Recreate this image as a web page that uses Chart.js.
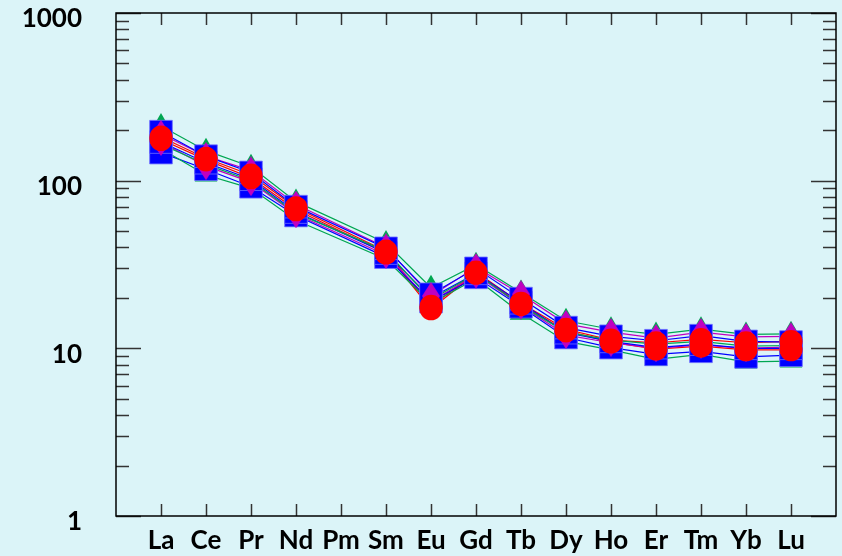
<!DOCTYPE html>
<html>
<head>
<meta charset="utf-8">
<script src="https://cdn.jsdelivr.net/npm/chart.js@4.4.1/dist/chart.umd.min.js"></script>
<style>
  body { margin: 0; background: rgb(219, 244, 248); }
  #wrap { width: 842px; height: 556px; }
</style>
</head>
<body>
<div id="wrap"><canvas id="reeChart" width="842" height="556"></canvas></div>
<script>
'use strict';

// REE elements (Pm has no data)
const elements = ['La', 'Ce', 'Pr', 'Nd', 'Pm', 'Sm', 'Eu', 'Gd', 'Tb', 'Dy', 'Ho', 'Er', 'Tm', 'Yb', 'Lu'];
const yTickValues = [1, 10, 100, 1000];

// chondrite-normalised values
const blue1 = [196, 140, 112, 70, null, 39.5, 21, 30, 19.8, 13.3, 11.8, 11.1, 11.9, 11, 10.9];
const blue2 = [170, 128, 102, 65, null, 37, 20, 28, 18.7, 12.4, 11, 10.1, 10.6, 10, 10];
const blue3 = [147, 117, 92, 62, null, 35, 19, 26.5, 17.7, 11.6, 10.1, 9.2, 9.6, 8.9, 9.1];
const green1 = [212, 151, 121, 75, null, 42.5, 23, 31.5, 21.5, 14.6, 13, 12.1, 13, 12.1, 12.2];
const green2 = [165, 125, 100, 64, null, 38, 19.5, 28, 18, 12.5, 11.2, 10.6, 11, 10.3, 10.4];
const green3 = [155, 108, 90, 58, null, 34, 18.5, 26, 16.2, 11, 9.8, 8.6, 9.2, 8.3, 8.4];
const purple1 = [190, 140, 115, 72, null, 40, 20.5, 30.5, 21, 14, 12.5, 11.5, 12.5, 11.7, 11.8];
const purple2 = [170, 122, 98, 63, null, 36, 19, 27.5, 18, 12, 10.8, 10, 10.5, 10, 10.2];
const red1 = [182, 136, 108, 69, null, 38, 17.8, 28.5, 18.6, 13, 11.2, 10.8, 11.3, 10.8, 11];
const red2 = [176, 133, 104, 67, null, 37, 17.2, 28, 18.2, 12.7, 10.9, 9.9, 10.3, 9.8, 9.8];

const BG = 'rgb(219, 244, 248)';
const BLUE = '#0000ff';
const GREEN = '#00a651';
const PURPLE = '#c000c0';
const RED = '#ff0000';

// narrow diamond marker
function makeDiamond() {
  const c = document.createElement('canvas');
  c.width = 18;
  c.height = 28;
  const g = c.getContext('2d');
  g.fillStyle = PURPLE;
  g.beginPath();
  g.moveTo(9, 0);
  g.lineTo(18, 14);
  g.lineTo(9, 28);
  g.lineTo(0, 14);
  g.closePath();
  g.fill();
  return c;
}
const diamond = makeDiamond();

// pad with empty slots so the first and last element sit one step inside the frame
const labels = [''].concat(elements, ['']);
function pad(arr) { return [null].concat(arr, [null]); }

const series = [
  { data: green1, color: GREEN, style: 'triangle', radius: 13, order: 3 },
  { data: green2, color: GREEN, style: 'triangle', radius: 13, order: 3 },
  { data: green3, color: GREEN, style: 'triangle', radius: 13, order: 3 },
  { data: blue1, color: BLUE, style: 'rect', radius: 16, order: 2 },
  { data: blue2, color: BLUE, style: 'rect', radius: 16, order: 2 },
  { data: blue3, color: BLUE, style: 'rect', radius: 16, order: 2 },
  { data: purple1, color: PURPLE, style: diamond, radius: 12, order: 1 },
  { data: purple2, color: PURPLE, style: diamond, radius: 12, order: 1 },
  { data: red1, color: RED, style: 'circle', radius: 11.5, order: 0 },
  { data: red2, color: RED, style: 'circle', radius: 11.5, order: 0 }
];

const datasets = [];
// lines first (drawn underneath all markers)
series.forEach(function (s) {
  datasets.push({
    data: pad(s.data),
    borderColor: s.color,
    borderWidth: 1.2,
    pointRadius: 0,
    spanGaps: true,
    fill: false,
    order: 10
  });
});
// markers
series.forEach(function (s) {
  datasets.push({
    data: pad(s.data),
    showLine: false,
    pointStyle: s.style,
    pointRadius: s.radius,
    pointBackgroundColor: s.color,
    pointBorderColor: s.color === BLUE ? 'rgba(110,110,255,0.8)' : s.color,
    pointBorderWidth: s.color === BLUE ? 1 : 0,
    order: s.order
  });
});

// frame and inward ticks on all four sides
const framePlugin = {
  id: 'frame',
  afterDraw(chart) {
    const ctx = chart.ctx;
    const a = chart.chartArea;
    const xs = chart.scales.x;
    const ys = chart.scales.y;
    ctx.save();
    ctx.strokeStyle = '#333';
    ctx.lineWidth = 1.5;
    ctx.beginPath();
    for (let i = 1; i <= elements.length; i++) {
      const px = Math.round(xs.getPixelForValue(i)) + 0.5;
      ctx.moveTo(px, a.bottom);
      ctx.lineTo(px, a.bottom - 12);
      ctx.moveTo(px, a.top);
      ctx.lineTo(px, a.top + 12);
    }
    for (let d = 1; d <= 1000; d *= 10) {
      for (let m = 1; m <= 9; m++) {
        const v = d * m;
        if (v > 1000) break;
        const py = Math.round(ys.getPixelForValue(v)) + 0.5;
        const len = m === 1 ? 25 : 13;
        ctx.moveTo(a.left, py);
        ctx.lineTo(a.left + len, py);
        ctx.moveTo(a.right, py);
        ctx.lineTo(a.right - len, py);
      }
    }
    ctx.stroke();
    ctx.strokeStyle = '#000';
    ctx.lineWidth = 1.5;
    ctx.strokeRect(a.left, a.top, a.right - a.left, a.bottom - a.top);
    ctx.restore();
  }
};

const bgPlugin = {
  id: 'bg',
  beforeDraw(chart) {
    const ctx = chart.ctx;
    ctx.save();
    ctx.fillStyle = BG;
    ctx.fillRect(0, 0, chart.width, chart.height);
    ctx.restore();
  }
};

const labelFont = { family: 'Lato', size: 26, weight: 'bold', lineHeight: 1 };

const config = {
  type: 'line',
  data: { labels: labels, datasets: datasets },
  options: {
    responsive: false,
    animation: false,
    layout: { autoPadding: false, padding: { top: 13, right: 6, left: 0, bottom: 0 } },
    plugins: { legend: { display: false }, tooltip: { enabled: false } },
    scales: {
      x: {
        type: 'category',
        offset: false,
        grid: { display: false, drawTicks: false },
        border: { display: false },
        ticks: { color: '#000', font: labelFont, padding: 12, maxRotation: 0, autoSkip: false },
        afterFit(scale) {
          scale.height = 40;
          scale.paddingLeft = 0;
          scale.paddingRight = 0;
        }
      },
      y: {
        type: 'logarithmic',
        min: 1,
        max: 1000,
        grid: { display: false, drawTicks: false },
        border: { display: false },
        ticks: {
          color: '#000',
          font: labelFont,
          padding: 34,
          labelOffset: 6,
          callback: function (v) { return String(v); }
        },
        afterBuildTicks(scale) {
          scale.ticks = yTickValues.map(function (v) { return { value: v }; });
        },
        afterFit(scale) {
          scale.width = 116;
          scale.paddingTop = 0;
          scale.paddingBottom = 0;
        }
      }
    }
  },
  plugins: [bgPlugin, framePlugin]
};

const canvasChart = document.getElementById('reeChart').getContext('2d');
const myChart = new Chart(canvasChart, config);
</script>
</body>
</html>
